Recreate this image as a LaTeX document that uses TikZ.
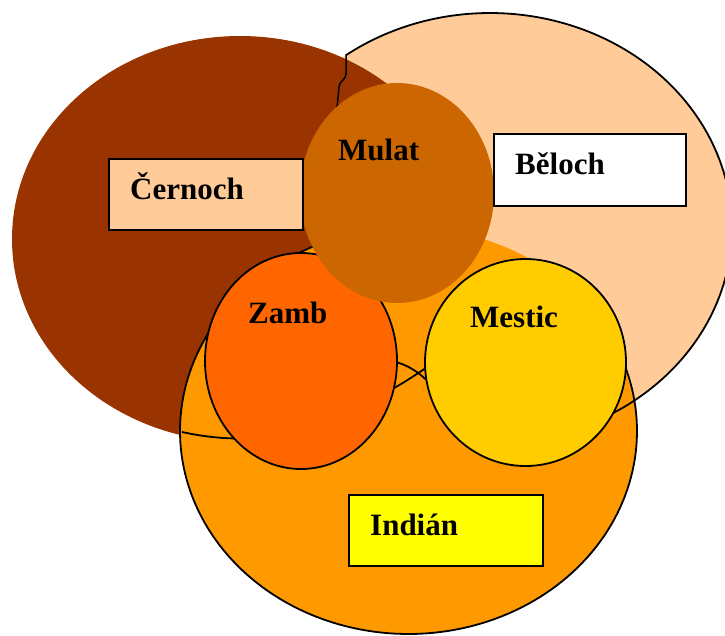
\documentclass[tikz,border=0pt]{standalone}
\usepackage{fontspec}
\setmainfont{Liberation Serif}
\definecolor{beigec}{HTML}{FFCC99}
\definecolor{brownc}{HTML}{993300}
\definecolor{indianc}{HTML}{FF9900}
\definecolor{zambc}{HTML}{FF6600}
\definecolor{mesticc}{HTML}{FFCC00}
\definecolor{mulatc}{HTML}{CC6600}
\definecolor{yellowc}{HTML}{FFFF00}
\begin{document}
\begin{tikzpicture}[x=1pt,y=-1pt,
  outl/.style={line width=1.8pt, line join=round},
  boxst/.style={draw, line width=2pt, anchor=north west, inner sep=0pt},
  lbl/.style={anchor=base west, inner sep=0pt, font=\fontsize{31}{31}\selectfont\bfseries}]
\useasboundingbox (0,0) rectangle (725,635);
\clip (0,0) rectangle (725,635);
% big sets
\fill[beigec] (490,228) ellipse [x radius=242pt, y radius=215pt];
\fill[brownc] (240,239) ellipse [x radius=228pt, y radius=203pt];
\fill[indianc] (408.5,431) ellipse [x radius=228.5pt, y radius=203pt];
% outline pieces
\draw[outl] plot[domain=-25:246, samples=150, variable=\t] ({408.5+228.5*cos(\t)},{431+203*sin(\t)});
\draw[outl] plot[domain=-126.5:62, samples=150, variable=\t] ({490+242*cos(\t)},{228+215*sin(\t)});
\coordinate (w1) at (346,54);
\coordinate (w2) at (346,74);
\coordinate (w3) at (339,87);
\coordinate (w4) at (337,108);
\draw[line width=1.5pt] (w1) -- (w2) .. controls (346,80) and (339,81) .. (w3) -- (w4);
\coordinate (f1a) at (182,432);
\coordinate (f1b) at (240,438.5);
\draw[outl] (f1a) .. controls (200,436) and (220,438.5) .. (f1b);
\coordinate (f2a) at (392,361);
\coordinate (f2b) at (432,386);
\draw[outl] (f2a) .. controls (406,364) and (420,372) .. (f2b);
\coordinate (f3a) at (392,389);
\coordinate (f3b) at (432,364);
\draw[outl] (f3a) .. controls (404,383) and (418,373) .. (f3b);
% mixed groups
\filldraw[fill=zambc, outl] (301,361) ellipse [x radius=96pt, y radius=108pt];
\filldraw[fill=mesticc, outl] (525.5,362.5) ellipse [x radius=100.5pt, y radius=103.5pt];
\fill[mulatc] (397,193) ellipse [x radius=97pt, y radius=110pt];
% boxes
\node[boxst, fill=beigec, minimum width=194pt, minimum height=71pt] (cbox) at (108,158) {};
\node[boxst, fill=white, minimum width=192pt, minimum height=72pt] (bbox) at (493,133) {};
\node[boxst, fill=yellowc, minimum width=194pt, minimum height=71pt] (ibox) at (348,494) {};
% labels
\node[lbl] (ct) at (130,199) {Černoch};
\node[lbl] (bt) at (515,174) {Běloch};
\node[lbl] (it) at (370,535) {Indián};
\node[lbl] (mt) at (338,160) {Mulat};
\node[lbl] (zt) at (248,323) {Zamb};
\node[lbl] (et) at (470,327) {Mestic};
\end{tikzpicture}
\end{document}
